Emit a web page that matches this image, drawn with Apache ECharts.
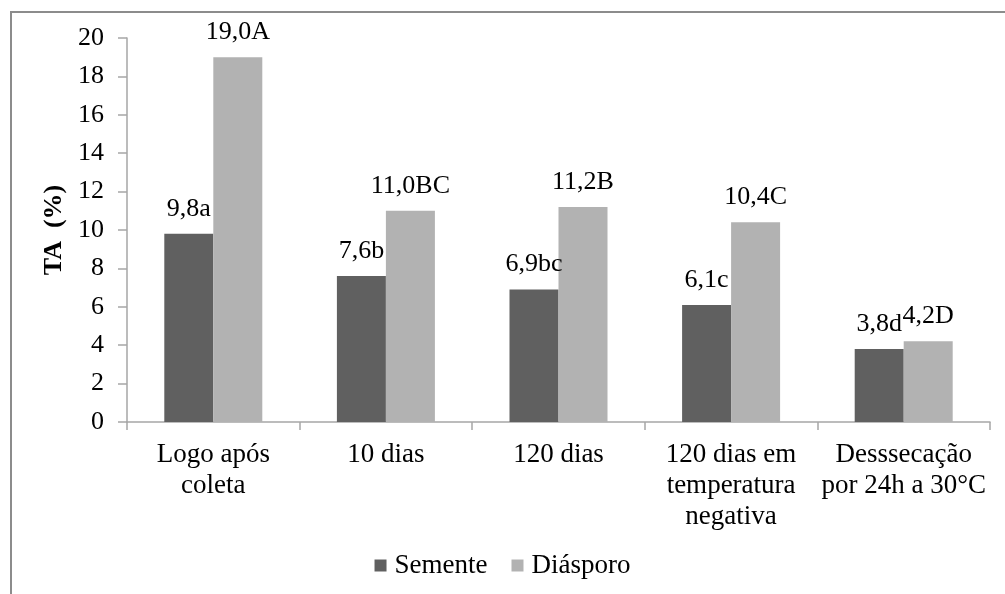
<!DOCTYPE html>
<html>
<head>
<meta charset="utf-8">
<script src="https://cdn.jsdelivr.net/npm/echarts@6/dist/echarts.min.js"></script>
<style>
    html, body { margin: 0; padding: 0; background: #fff; }
    #chart { width: 1005px; height: 594px; }
</style>
</head>
<body>
<div id="chart"></div>
<script>
    var categories = ['Logo após\ncoleta', '10 dias', '120 dias', '120 dias em\ntemperatura\nnegativa', 'Desssecação\npor 24h a 30°C'];
    var semente = [9.8, 7.6, 6.9, 6.1, 3.8];
    var diasporo = [19.0, 11.0, 11.2, 10.4, 4.2];
    var sementeLabels = ['9,8a', '7,6b', '6,9bc', '6,1c', '3,8d'];
    var diasporoLabels = ['19,0A', '11,0BC', '11,2B', '10,4C', '4,2D'];

    var font = 'Liberation Serif';
    var myChart = echarts.init(document.getElementById('chart'));

    var option = {
        backgroundColor: '#fff',
        animation: false,
        textStyle: { fontFamily: font },
        graphic: [{
            type: 'rect',
            shape: { x: 11, y: 12, width: 1200, height: 800 },
            style: { fill: 'none', stroke: '#8c8c8c', lineWidth: 2 },
            silent: true
        }],
        grid: { left: 127, top: 38, right: 15, bottom: 172, containLabel: false },
        legend: {
            data: ['Semente', 'Diásporo'],
            bottom: 10,
            left: 'center',
            itemWidth: 12,
            itemHeight: 12,
            itemGap: 24,
            icon: 'rect',
            textStyle: { fontFamily: font, fontSize: 27, color: '#000', padding: [0, 0, 0, 3] }
        },
        xAxis: {
            type: 'category',
            data: categories,
            axisLine: { lineStyle: { color: '#a6a6a6', width: 1.5 } },
            axisTick: { show: true, length: 8, lineStyle: { color: '#a6a6a6', width: 1.5 } },
            axisLabel: {
                interval: 0,
                margin: 17,
                fontFamily: font,
                fontSize: 27,
                lineHeight: 31,
                color: '#000'
            }
        },
        yAxis: {
            type: 'value',
            min: 0,
            max: 20,
            interval: 2,
            name: 'TA  (%)',
            nameLocation: 'middle',
            nameGap: 58,
            nameTextStyle: { fontFamily: font, fontSize: 26, fontWeight: 'bold', color: '#000' },
            axisLine: { show: true, lineStyle: { color: '#a6a6a6', width: 1.5 } },
            axisTick: { show: true, length: 9, lineStyle: { color: '#a6a6a6', width: 1.5 } },
            splitLine: { show: false },
            axisLabel: { margin: 23, fontFamily: font, fontSize: 26, color: '#000' }
        },
        series: [{
            name: 'Semente',
            type: 'bar',
            data: semente,
            barWidth: 49,
            barGap: '0%',
            itemStyle: { color: '#606060' },
            label: {
                show: true,
                position: 'top',
                distance: 12,
                fontFamily: font,
                fontSize: 26,
                color: '#000',
                formatter: function (p) { return sementeLabels[p.dataIndex]; }
            }
        }, {
            name: 'Diásporo',
            type: 'bar',
            data: diasporo,
            barWidth: 49,
            barGap: '0%',
            itemStyle: { color: '#b2b2b2' },
            label: {
                show: true,
                position: 'top',
                distance: 12,
                fontFamily: font,
                fontSize: 26,
                color: '#000',
                formatter: function (p) { return diasporoLabels[p.dataIndex]; }
            }
        }]
    };

    myChart.setOption(option);
</script>
</body>
</html>
